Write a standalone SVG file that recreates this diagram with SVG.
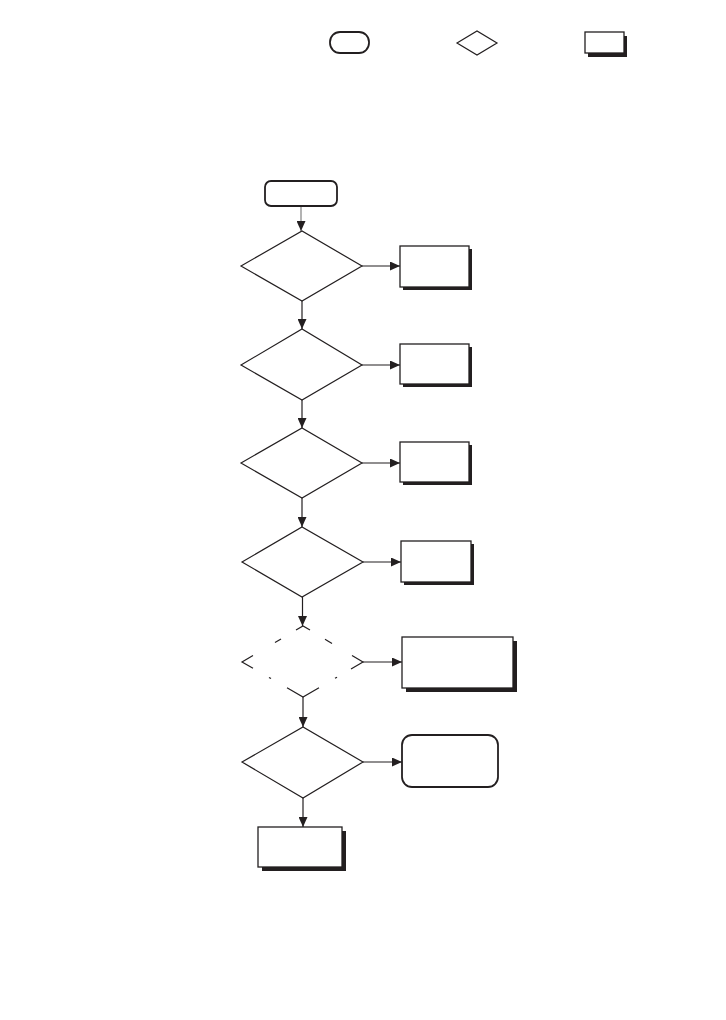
<svg xmlns="http://www.w3.org/2000/svg" width="726" height="1020" viewBox="0 0 726 1020">
<defs>
<style>
.sh{fill:#231f20;stroke:none}
.bx{fill:#fff;stroke:#231f20;stroke-width:1.3}
.tm{fill:#fff;stroke:#231f20;stroke-width:1.8}
.dm{fill:#fff;stroke:#231f20;stroke-width:1.2}
.ln{fill:none;stroke:#231f20;stroke-width:1.2}
.dl{fill:none;stroke:#231f20;stroke-width:1.2}
</style>
<marker id="arr" markerWidth="10" markerHeight="9" refX="10" refY="4.5" orient="auto" markerUnits="userSpaceOnUse">
<path d="M0,0 L10,4.5 L0,9 z" fill="#231f20"/>
</marker>
</defs>
<rect width="726" height="1020" fill="#fff"/>
<g id="legend-terminator"><rect class="tm" x="330" y="32" width="39" height="21" rx="10"/></g>
<g id="legend-decision"><polygon class="dm" points="457,43 477,31 497,43 477,55"/></g>
<g id="legend-process"><rect class="sh" x="588" y="36" width="39" height="21"/><rect class="bx" x="585" y="32" width="39" height="21"/></g>
<g id="connectors">
<line x1="301" y1="206" x2="301" y2="231" stroke="#8a8a8a" stroke-width="1.3" marker-end="url(#arr)"/>
<line class="ln" x1="302" y1="301" x2="302" y2="329" marker-end="url(#arr)"/>
<line class="ln" x1="302" y1="400" x2="302" y2="428" marker-end="url(#arr)"/>
<line class="ln" x1="302" y1="498" x2="302" y2="527" marker-end="url(#arr)"/>
<line class="ln" x1="302.5" y1="597" x2="302.5" y2="626" marker-end="url(#arr)"/>
<line class="ln" x1="303" y1="697" x2="303" y2="727" marker-end="url(#arr)"/>
<line class="ln" x1="303" y1="798" x2="303" y2="827" marker-end="url(#arr)"/>
<line class="ln" x1="362" y1="266" x2="400" y2="266" marker-end="url(#arr)"/>
<line class="ln" x1="362" y1="365" x2="400" y2="365" marker-end="url(#arr)"/>
<line class="ln" x1="362" y1="463" x2="400" y2="463" marker-end="url(#arr)"/>
<line class="ln" x1="363" y1="562" x2="401" y2="562" marker-end="url(#arr)"/>
<line class="ln" x1="363" y1="662" x2="402" y2="662" marker-end="url(#arr)"/>
<line class="ln" x1="363" y1="762" x2="402" y2="762" marker-end="url(#arr)"/>
</g>
<g id="start"><rect class="tm" x="265" y="181" width="72" height="25" rx="6"/></g>
<g id="decision1"><polygon class="dm" points="241,266 302,231 362,266 302,301"/></g>
<g id="process1"><rect class="sh" x="403" y="249" width="69" height="41"/><rect class="bx" x="400" y="246" width="69" height="41"/></g>
<g id="decision2"><polygon class="dm" points="241,365 302,329 362,365 302,400"/></g>
<g id="process2"><rect class="sh" x="403" y="347" width="69" height="40"/><rect class="bx" x="400" y="344" width="69" height="40"/></g>
<g id="decision3"><polygon class="dm" points="241,463 302,428 362,463 302,498"/></g>
<g id="process3"><rect class="sh" x="403" y="445" width="69" height="40"/><rect class="bx" x="400" y="442" width="69" height="40"/></g>
<g id="decision4"><polygon class="dm" points="242,562 302,527 363,562 302,597"/></g>
<g id="process4"><rect class="sh" x="404" y="544" width="70" height="41"/><rect class="bx" x="401" y="541" width="70" height="41"/></g>
<g id="decision5">
<path class="dl" d="M296,630 L303,626 L310,630"/>
<line class="dl" x1="325" y1="639.2" x2="332" y2="643.4"/>
<path class="dl" d="M352,655.4 L363,662 L351,669"/>
<line class="dl" x1="337" y1="677.2" x2="335" y2="678.3"/>
<path class="dl" d="M319,687.7 L303,697 L287,687.7"/>
<line class="dl" x1="271" y1="678.6" x2="269" y2="677.4"/>
<path class="dl" d="M253,668.3 L242,662 L253,655.5"/>
<line class="dl" x1="275" y1="642.5" x2="281" y2="639"/>
</g>
<g id="process5"><rect class="sh" x="406" y="641" width="111" height="51"/><rect class="bx" x="402" y="637" width="111" height="51"/></g>
<g id="decision6"><polygon class="dm" points="242,762 303,727 363,762 303,798"/></g>
<g id="terminator6"><rect class="tm" x="402" y="735" width="96" height="52" rx="10"/></g>
<g id="process7"><rect class="sh" x="262" y="831" width="84" height="40"/><rect class="bx" x="258" y="827" width="84" height="40"/></g>
</svg>
